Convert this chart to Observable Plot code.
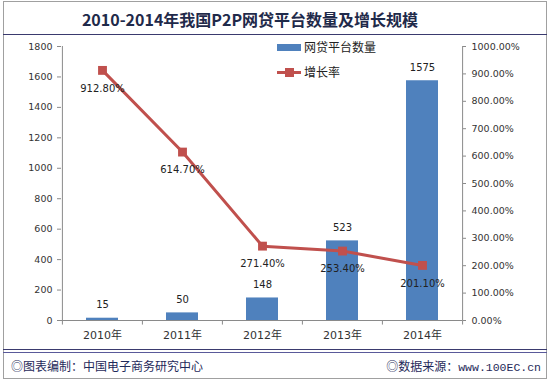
<!DOCTYPE html>
<html>
<head>
<meta charset="utf-8">
<script src="https://cdn.jsdelivr.net/npm/d3@7"></script>
<script src="https://cdn.jsdelivr.net/npm/@observablehq/plot@0.6"></script>
<style>
  html, body { margin: 0; padding: 0; background: #fff; }
  #wrap { position: relative; width: 550px; height: 382px; overflow: hidden; font-family: "DejaVu Sans", "Noto Sans CJK SC", sans-serif; }
  #border { position: absolute; left: 3px; top: 1px; width: 542px; height: 376px; border: 1px solid #a0a0a0; box-sizing: content-box; }
  #title { position: absolute; left: 0; top: 8px; width: 500px; text-align: center; font-family: "Noto Sans CJK SC", sans-serif; font-weight: bold; font-size: 16px; line-height: 22px; color: #1f2a4a; }
  .hline { position: absolute; left: 3px; width: 544px; height: 1px; background: #3a3a6e; }
  #chart { position: absolute; left: 0; top: 36px; }
  #legend { position: absolute; left: 277px; top: 38px; font-family: "Noto Sans CJK SC", sans-serif; font-size: 12px; color: #222; }
  .lrow { position: relative; height: 25px; line-height: 18px; }
  .lrow span.t { position: absolute; left: 27px; top: 0; white-space: nowrap; }
  #foot-l { position: absolute; left: 11px; top: 357px; font-family: "Noto Sans CJK SC", sans-serif; font-size: 12px; color: #1f2a5a; white-space: nowrap; }
  #foot-r { position: absolute; right: 9px; top: 357px; font-family: "Noto Sans CJK SC", sans-serif; font-size: 12px; color: #1f2a5a; white-space: nowrap; }
  #foot-r .url { font-family: "Liberation Mono", monospace; font-size: 11.5px; }
</style>
</head>
<body>
<div id="wrap">
  <div id="border"></div>
  <div id="title"></div>
  <div class="hline" style="top:34px"></div>
  <div id="chart"></div>
  <div id="legend"></div>
  <div class="hline" style="top:349px"></div>
  <div class="hline" style="top:352px; background:#5a5a9a"></div>
  <div id="foot-l"></div>
  <div id="foot-r"></div>
</div>
<script>
const titleText = "2010-2014年我国P2P网贷平台数量及增长规模";
const years = ["2010年", "2011年", "2012年", "2013年", "2014年"];
const platforms = [15, 50, 148, 523, 1575];
const growth = [912.8, 614.7, 271.4, 253.4, 201.1];
const growthLabels = ["912.80%", "614.70%", "271.40%", "253.40%", "201.10%"];
const leftTicks = [0, 200, 400, 600, 800, 1000, 1200, 1400, 1600, 1800];
const rightTicks = [0, 100, 200, 300, 400, 500, 600, 700, 800, 900, 1000];
const seriesNames = ["网贷平台数量", "增长率"];
const footLeft = "◎图表编制：中国电子商务研究中心";
const footRightLabel = "◎数据来源：";
const footRightUrl = "www.100EC.cn";

const barColor = "#4f81bd";
const lineColor = "#c0504d";
const ratio = 1800 / 1000; // right axis (percent) mapped onto left axis domain

const data = years.map((y, i) => ({
  year: y, count: platforms[i], rate: growth[i], rateY: growth[i] * ratio, rateLabel: growthLabels[i]
}));

document.getElementById("title").textContent = titleText;
document.getElementById("foot-l").textContent = footLeft;
const fr = document.getElementById("foot-r");
fr.textContent = footRightLabel;
const urlSpan = document.createElement("span");
urlSpan.className = "url";
urlSpan.textContent = footRightUrl;
fr.appendChild(urlSpan);

const lg = document.getElementById("legend");
lg.innerHTML = `
  <div class="lrow"><span style="position:absolute;left:0;top:6px;width:24px;height:7px;background:${barColor}"></span><span class="t">${seriesNames[0]}</span></div>
  <div class="lrow"><span style="position:absolute;left:0;top:8px;width:24px;height:3px;background:${lineColor}"></span><span style="position:absolute;left:8px;top:5px;width:9px;height:9px;background:${lineColor}"></span><span class="t">${seriesNames[1]}</span></div>`;

const halfStep = 40.1;
const axisColor = "#8a8a8a";
const chart = Plot.plot({
  width: 550,
  height: 312,
  marginLeft: 61,
  marginRight: 88,
  marginTop: 10,
  marginBottom: 28,
  style: { fontFamily: "DejaVu Sans, Noto Sans CJK SC, sans-serif", fontSize: "9.5px", color: "#333", background: "transparent" },
  x: { domain: years, paddingInner: 0.6, paddingOuter: 0.3, label: null },
  y: { domain: [0, 1800], label: null },
  marks: [
    Plot.barY(data, { x: "year", y: "count", fill: barColor }),
    Plot.ruleY([0], { stroke: axisColor }),
    Plot.ruleX([years[0]], { dx: -halfStep, y1: 0, y2: 1800, stroke: axisColor }),
    Plot.ruleX([years[years.length - 1]], { dx: halfStep, y1: 0, y2: 1800, stroke: axisColor }),
    Plot.ruleX(years, { x: d => d, dx: -halfStep, y1: 0, y2: -30, stroke: axisColor }),
    Plot.ruleX([years[years.length - 1]], { dx: halfStep, y1: 0, y2: -30, stroke: axisColor }),
    Plot.axisY({ anchor: "left", ticks: leftTicks, tickFormat: d => String(d), tickSize: 4, tickPadding: 5, stroke: axisColor, fill: "#333", label: null }),
    Plot.axisY({ anchor: "right", ticks: rightTicks.map(d => d * ratio), tickFormat: d => (d / ratio).toFixed(2) + "%", tickSize: 3, tickPadding: 6, stroke: axisColor, fill: "#333", label: null, textAnchor: "start" }),
    Plot.axisX({ tickSize: 0, tickPadding: 11, fill: "#333", label: null, fontSize: 11 }),
    Plot.text(data, { x: "year", y: "count", text: d => String(d.count), dy: -13, fill: "#222", fontSize: 10 }),
    Plot.lineY(data, { x: "year", y: "rateY", stroke: lineColor, strokeWidth: 3 }),
    Plot.dot(data, { x: "year", y: "rateY", symbol: "square", r: 5, fill: lineColor, stroke: "none" }),
    Plot.text(data, { x: "year", y: "rateY", text: "rateLabel", dy: 18, fill: "#222", fontSize: 10 })
  ]
});
document.getElementById("chart").appendChild(chart);
</script>
</body>
</html>
